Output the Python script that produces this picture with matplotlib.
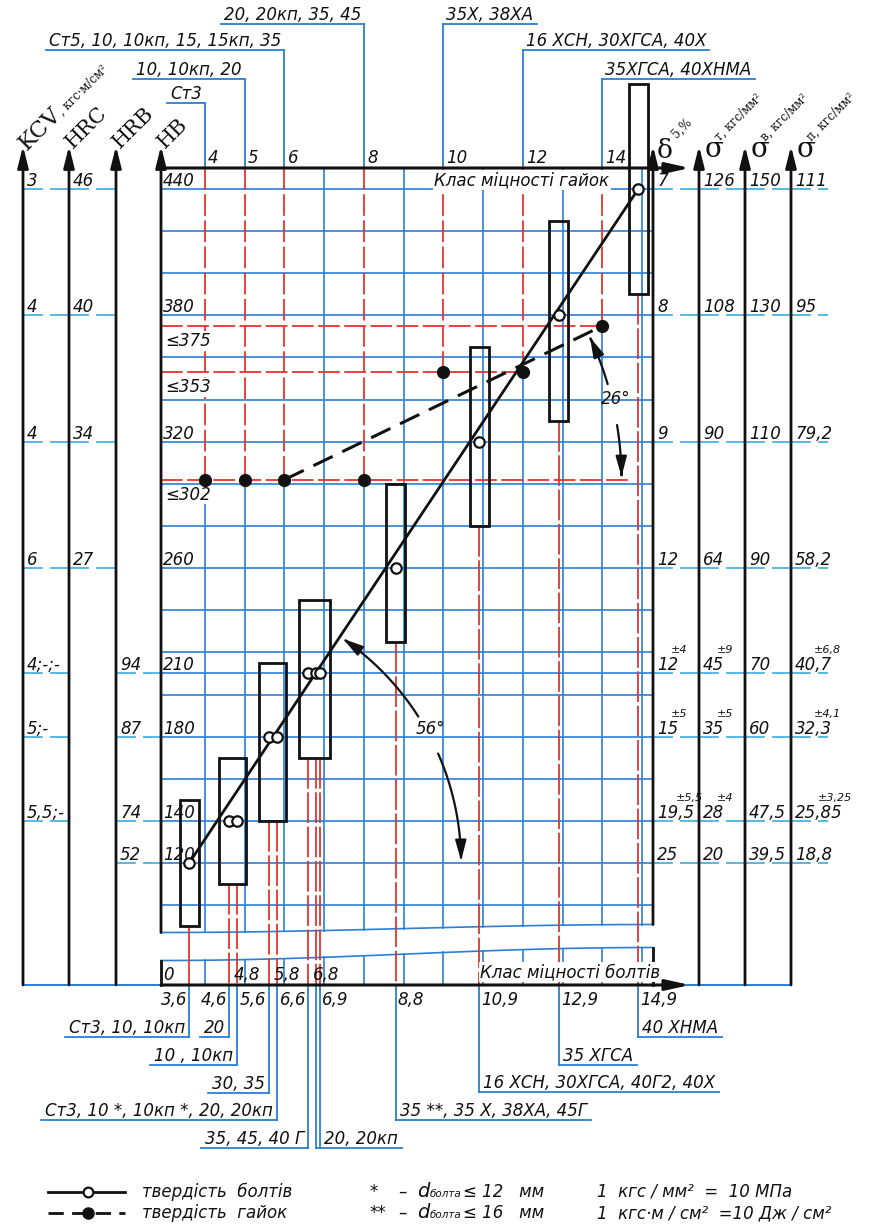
import numpy as np
import matplotlib.pyplot as plt
from matplotlib.patches import Rectangle, FancyArrowPatch
from matplotlib.path import Path

# ---- values ----
hb_rows = [440, 380, 320, 260, 210, 180, 140, 120]
kcv_vals = ['3', '4', '4', '6', '4;-;-', '5;-', '5,5;-', '']
hrc_vals = ['46', '40', '34', '27', '', '', '', '']
hrb_vals = ['', '', '', '', '94', '87', '74', '52']
delta5_vals = ['7', '8', '9', '12', '12', '15', '19,5', '25']
delta5_tol = ['', '', '', '', '±4', '±5', '±5,5', '']
sigma_t_vals = ['126', '108', '90', '64', '45', '35', '28', '20']
sigma_t_tol = ['', '', '', '', '±9', '±5', '±4', '']
sigma_b_vals = ['150', '130', '110', '90', '70', '60', '47,5', '39,5']
sigma_b_tol = ['', '', '', '', '', '', '', '']
sigma_p_vals = ['111', '95', '79,2', '58,2', '40,7', '32,3', '25,85', '18,8']
sigma_p_tol = ['', '', '', '', '±6,8', '±4,1', '±3,25', '']

hb_grid = list(range(100, 441, 20)) + [210]
hb_marks = [440, 380, 375, 353, 320, 302, 260, 210, 180, 140, 120]
hb_mark_labels = ['440', '380', '≤375', '≤353', '320', '≤302', '260', '210', '180', '140', '120']

nut_classes = [4, 5, 6, 8, 10, 12, 14]
nut_hb = [302, 302, 302, 302, 353, 353, 375]
nut_steels = ['Ст3', '10, 10кп, 20', 'Ст5, 10, 10кп, 15, 15кп, 35', '20, 20кп, 35, 45',
              '35Х, 38ХА', '16 ХСН, 30ХГСА, 40Х', '35ХГСА, 40ХНМА']

bolt_classes = [3.6, 4.6, 4.8, 5.6, 5.8, 6.6, 6.8, 6.9, 8.8, 10.9, 12.9, 14.9]
bolt_labels = ['3,6', '4,6', '4,8', '5,6', '5,8', '6,6', '6,8', '6,9', '8,8', '10,9', '12,9', '14,9']
bolt_hb = [120, 140, 140, 180, 180, 210, 210, 210, 260, 320, 380, 440]
bolt_steels = ['Ст3, 10, 10кп', '20', '10 , 10кп', '30, 35', 'Ст3, 10 *, 10кп *, 20, 20кп',
               '35, 45, 40 Г', '', '20, 20кп', '35 **, 35 Х, 38ХА, 45Г',
               '16 ХСН, 30ХГСА, 40Г2, 40Х', '35 ХГСА', '40 ХНМА']

box_groups = [[3.6], [4.6, 4.8], [5.6, 5.8], [6.6, 6.8, 6.9], [8.8], [10.9], [12.9], [14.9]]
box_hb_lo = [90, 110, 140, 170, 225, 280, 330, 390]
box_hb_hi = [150, 170, 215, 245, 300, 365, 425, 490]

# ---- layout (pixels of the 883 x 1224 sheet) ----
W, H = 883, 1224
X0, KX = 46, 39.75       # pixel x = X0 + KX * class
Y0, KY = 189, 2.10625    # pixel y = Y0 + KY * (440 - HB)


def X(px):
    return (np.asarray(px, float) - X0) / KX


def Y(py):
    return 440 - (np.asarray(py, float) - Y0) / KY


def XP(c):
    return X0 + KX * c


L_EDGE, R_EDGE = 161, 653
TOP_AX, BOT_AX, ARROW_TOP, AX_END = 168, 985, 146, 690
left_axes = [23, 69, 116, L_EDGE]
right_axes = [R_EDGE, 699, 745, 791, 828]
nut_lead_top = [103, 79, 50, 24, 24, 50, 79]
nut_lead_side = [-1, -1, -1, -1, 1, 1, 1]
bolt_lead_bot = [1037, 1037, 1065, 1093, 1120, 1148, 1148, 1148, 1120, 1092, 1065, 1037]
bolt_lead_side = [-1, -1, -1, -1, -1, -1, 1, 1, 1, 1, 1, 1]
bolt_lab_pos = ['bl', 'bl', 'a', 'bl', 'a', 'bl', 'a', 'br', 'br', 'br', 'br', 'br']

BLUE = '#2a7fd6'
RED = '#e3342e'
CYAN = '#4ab2e0'
INK = '#111111'
FS = 12
TXT = dict(style='italic', color=INK, fontsize=FS)
SERIF = 'DejaVu Serif'
RED_DASH = (0, (12, 2.5))
BOLT_DASH = (0, (17, 2))

plt.rcParams['font.family'] = ['DejaVu Sans']
fig = plt.figure(figsize=(W / 100, H / 100), dpi=100)
ax = fig.add_axes([0, 0, 1, 1])
ax.set_xlim(X(0), X(W))
ax.set_ylim(Y(H), Y(0))
ax.axis('off')
renderer = fig.canvas.get_renderer()
inv = ax.transData.inverted()


def upper_break(px):
    t = (np.asarray(px, float) - L_EDGE) / (R_EDGE - L_EDGE)
    return 928.5 + 4 * np.cos(np.pi * t)


def lower_break(px):
    t = (np.asarray(px, float) - L_EDGE) / (R_EDGE - L_EDGE)
    return 954 + 6.5 * np.cos(np.pi * t)


def seg(x0, y0, x1, y1, **kw):
    ax.plot(X([x0, x1]), Y([y0, y1]), **kw)


def arrow_up(px, y_from, y_to):
    ax.annotate('', xy=(X(px), Y(y_to)), xytext=(X(px), Y(y_from)),
                arrowprops=dict(arrowstyle='-|>,head_length=0.8,head_width=0.2', color=INK,
                                lw=2, shrinkA=0, shrinkB=0, mutation_scale=16), zorder=6)


def arrow_right(py):
    ax.annotate('', xy=(X(AX_END), Y(py)), xytext=(X(L_EDGE), Y(py)),
                arrowprops=dict(arrowstyle='-|>,head_length=0.9,head_width=0.2', color=INK,
                                lw=2.2, shrinkA=0, shrinkB=0, mutation_scale=16), zorder=6)


def put(x, y, s, dx=0, dy=0, **kw):
    opts = dict(TXT)
    opts.update(kw)
    return ax.annotate(s, (x, y), xytext=(dx, dy), textcoords='offset pixels', **opts)


def chain(px, py, parts):
    # text pieces laid one after another along their own (rotated) baselines
    for s, size, rot in parts:
        t = ax.text(X(px), Y(py), s, ha='left', va='baseline', rotation_mode='anchor',
                    family=SERIF, fontsize=size, color=INK)
        w = t.get_window_extent(renderer).width
        t.set_rotation(rot)
        px += w * np.cos(np.radians(rot))
        py -= w * np.sin(np.radians(rot))


# ---- grid ----
for hb in hb_grid:
    ax.plot(X([L_EDGE, R_EDGE]), [hb, hb], color=BLUE, lw=1.2, zorder=1)
for c in range(4, 16):
    top = nut_hb[nut_classes.index(c)] if c in nut_classes else Y(TOP_AX)
    ax.plot([c, c], [top, Y(upper_break(XP(c)))], color=BLUE, lw=1.2, zorder=1)
    ax.plot([c, c], [Y(lower_break(XP(c))), Y(BOT_AX)], color=BLUE, lw=1.2, zorder=1)
xs = np.linspace(L_EDGE, R_EDGE, 80)
ax.plot(X(xs), Y(upper_break(xs)), color=BLUE, lw=1.2, zorder=1)
ax.plot(X(xs), Y(lower_break(xs)), color=BLUE, lw=1.2, zorder=1)


# ---- angle arcs ----
def angle_arc(center, target, radius, label, gap_px=21):
    c = ax.transData.transform(center)
    t = ax.transData.transform(target)
    ang = np.degrees(np.arctan2(t[1] - c[1], t[0] - c[0]))
    mid = ang / 2
    gap = np.degrees(gap_px / radius)
    for a0, a1 in [(mid + gap, ang - 0.8), (mid - gap, 0.5)]:
        th = np.radians(np.linspace(a0, a1, 40))
        pts = inv.transform(np.column_stack([c[0] + radius * np.cos(th),
                                             c[1] + radius * np.sin(th)]))
        ax.add_patch(FancyArrowPatch(path=Path(pts), arrowstyle='-|>,head_length=0.55,head_width=0.15',
                                     mutation_scale=22, color=INK, lw=1.6, zorder=6))
    tm = np.radians(mid + 0.8)
    tx, ty = inv.transform((c[0] + (radius + 4) * np.cos(tm), c[1] + (radius + 4) * np.sin(tm)))
    ax.text(tx, ty, label, ha='center', va='center', zorder=7, **TXT)
    return c[0] + radius


# ---- nut hardness ----
for c, hb in zip(nut_classes, nut_hb):
    ax.plot([c, c], [Y(TOP_AX), hb], color=RED, lw=1.3, ls=RED_DASH, zorder=2)
arc_end = angle_arc((nut_classes[2], nut_hb[2]), (nut_classes[-1], nut_hb[-1]), 337, '26°')
for level in sorted(set(nut_hb)):
    last = max(c for c, h in zip(nut_classes, nut_hb) if h == level)
    end = X(arc_end + 9) if level == min(nut_hb) else last
    ax.plot([X(L_EDGE), end], [level, level], color=RED, lw=1.3, ls=RED_DASH, zorder=2)
ax.plot([nut_classes[2], nut_classes[-1]], [nut_hb[2], nut_hb[-1]], color=INK, lw=2.2,
        ls=(0, (7, 3.5)), zorder=5)
ax.plot(nut_classes, nut_hb, 'o', ms=8.5, color=INK, zorder=8)

# ---- bolt hardness ----
for grp, lo, hi in zip(box_groups, box_hb_lo, box_hb_hi):
    left, right = min(grp) - 0.24, max(grp) + 0.24
    ax.add_patch(Rectangle((left, lo), right - left, hi - lo, fill=False, ec=INK, lw=2, zorder=4))
    for c in grp:
        ax.plot([c, c], [lo, Y(BOT_AX)], color=RED, lw=1.3,
                ls='-' if c == bolt_classes[0] else BOLT_DASH, zorder=2)
ax.plot([bolt_classes[0], bolt_classes[-1]], [bolt_hb[0], bolt_hb[-1]], color=INK, lw=2, zorder=5)
ax.plot(bolt_classes, bolt_hb, 'o', ms=7.5, mfc='white', mec=INK, mew=1.6, zorder=8)
angle_arc((bolt_classes[0], bolt_hb[0]), (bolt_classes[-1], bolt_hb[-1]), 272, '56°')

# ---- frame and axes ----
for px in left_axes[:3] + right_axes[1:4]:
    arrow_up(px, BOT_AX, ARROW_TOP)
arrow_up(L_EDGE, upper_break(L_EDGE), ARROW_TOP)
arrow_up(R_EDGE, upper_break(R_EDGE), ARROW_TOP)
seg(L_EDGE, lower_break(L_EDGE), L_EDGE, BOT_AX, color=INK, lw=2, zorder=6)
seg(R_EDGE, lower_break(R_EDGE), R_EDGE, BOT_AX, color=INK, lw=2, zorder=6)
arrow_right(TOP_AX)
arrow_right(BOT_AX)
seg(left_axes[0], BOT_AX, L_EDGE, BOT_AX, color=BLUE, lw=1.4, zorder=1)
seg(R_EDGE, BOT_AX, right_axes[3], BOT_AX, color=BLUE, lw=1.4, zorder=1)

# ---- side scales ----
side_dash = (0, (11, 4))
for i, hb in enumerate(hb_rows):
    for j, col in enumerate([kcv_vals, hrc_vals, hrb_vals]):
        if col[i]:
            ax.plot(X([left_axes[j], left_axes[j + 1]]), [hb, hb], color=CYAN, lw=1.3,
                    ls=side_dash, zorder=1)
            put(X(left_axes[j]), hb, col[i], dx=4, dy=3, ha='left', va='baseline')
    for j, (col, tol) in enumerate([(delta5_vals, delta5_tol), (sigma_t_vals, sigma_t_tol),
                                    (sigma_b_vals, sigma_b_tol), (sigma_p_vals, sigma_p_tol)]):
        ax.plot(X([right_axes[j], right_axes[j + 1]]), [hb, hb], color=CYAN, lw=1.3,
                ls=side_dash, zorder=1)
        t = put(X(right_axes[j]), hb, col[i], dx=4, dy=3, ha='left', va='baseline')
        if tol[i]:
            ax.annotate(tol[i], xy=(1, 1), xycoords=t, xytext=(9, 1), textcoords='offset pixels',
                        ha='right', va='bottom', style='italic', fontsize=8, color=INK)

# HB marks inside the frame
for lab, hb in zip(hb_mark_labels, hb_marks):
    if lab.startswith('≤'):
        put(X(L_EDGE), hb, lab, dx=4, dy=-6, ha='left', va='top', zorder=7,
            bbox=dict(fc='white', ec='none', pad=0.5))
    else:
        put(X(L_EDGE), hb, lab, dx=2, dy=3, ha='left', va='baseline', zorder=7)

# axis names
chain(27, 151, [('KCV', 16.5, 45), (', кгс·м/см²', 8.5, 45)])
for px, name in [(73, 'HRC'), (120, 'HRB'), (165, 'HB')]:
    chain(px, 149, [(name, 15, 45)])
ax.text(X(657), Y(158), 'δ', ha='left', va='baseline', family=SERIF, fontsize=19, color=INK)
chain(676, 138, [('5,%', 8.5, 45)])
for px, sub in [(705, 'т'), (751, 'в'), (797, 'п')]:
    ax.text(X(px), Y(157), 'σ', ha='left', va='baseline', family=SERIF, fontsize=20, color=INK)
    chain(px + 14, 141, [(sub + ', кгс/мм²', 8.5, 45)])

# class axes titles
ax.text(X(522), Y(180), 'Клас міцності гайок', ha='center', va='center', zorder=7,
        bbox=dict(fc='white', ec='none', pad=1), **TXT)
ax.text(X(570), Y(972), 'Клас міцності болтів', ha='center', va='center', zorder=7,
        bbox=dict(fc='white', ec='none', pad=1), **TXT)

# ---- nut class ticks and steel leaders ----
for c, steel, top, side in zip(nut_classes, nut_steels, nut_lead_top, nut_lead_side):
    put(c, Y(TOP_AX), str(c), dx=3, dy=5, ha='left', va='baseline')
    ax.plot([c, c], [Y(TOP_AX), Y(top)], color=BLUE, lw=1.3, zorder=1)
    t = put(c, Y(top), steel, dx=3 * side, dy=4, ha='left' if side > 0 else 'right', va='baseline')
    bb = t.get_window_extent(renderer)
    far = bb.x1 + 3 if side > 0 else bb.x0 - 3
    ax.plot([c, X(far)], [Y(top), Y(top)], color=BLUE, lw=1.3, zorder=1)

# ---- bolt class ticks and steel leaders ----
put(X(L_EDGE), Y(BOT_AX), '0', dx=2, dy=5, ha='left', va='baseline')
for k, (c, lab, steel, bot, side, pos) in enumerate(zip(bolt_classes, bolt_labels, bolt_steels,
                                                         bolt_lead_bot, bolt_lead_side, bolt_lab_pos)):
    if pos == 'a':
        put(c, Y(BOT_AX), lab, dx=-3, dy=5, ha='left', va='baseline', zorder=7)
    elif pos == 'bl':
        put(c, Y(BOT_AX), lab, dx=-2, dy=-20, ha='right', va='baseline')
    else:
        put(c, Y(BOT_AX), lab, dx=2, dy=-20, ha='left', va='baseline')
    ax.plot([c, c], [Y(BOT_AX), Y(bot)], color=BLUE, lw=1.3, zorder=1)
    if not steel:
        ax.plot([c, bolt_classes[k + 1]], [Y(bot), Y(bot)], color=BLUE, lw=1.3, zorder=1)
        continue
    t = put(c, Y(bot), steel, dx=4 * side, dy=4, ha='left' if side > 0 else 'right', va='baseline')
    bb = t.get_window_extent(renderer)
    far = bb.x1 + 4 if side > 0 else bb.x0 - 4
    ax.plot([c, X(far)], [Y(bot), Y(bot)], color=BLUE, lw=1.3, zorder=1)

# ---- legend and notes ----
ax.plot(X([48, 125]), Y([1192, 1192]), color=INK, lw=2)
ax.plot(X(88), Y(1192), 'o', ms=7, mfc='white', mec=INK, mew=1.6)
ax.plot(X([48, 125]), Y([1213, 1213]), color=INK, lw=2, ls=(0, (5.5, 3)))
ax.plot(X(88), Y(1213), 'o', ms=8, color=INK)
put(X(142), Y(1197), 'твердість  болтів', ha='left', va='baseline')
put(X(142), Y(1218), 'твердість  гайок', ha='left', va='baseline')
for py, stars, dval in [(1197, '*', '12'), (1218, '**', '16')]:
    put(X(370), Y(py), stars, ha='left', va='baseline')
    put(X(398), Y(py), '–', ha='left', va='baseline')
    put(X(417), Y(py), 'd', ha='left', va='baseline', fontsize=14)
    put(X(430), Y(py), 'болта', ha='left', va='baseline', fontsize=7.5)
    put(X(463), Y(py), '≤ ' + dval + '   мм', ha='left', va='baseline')
put(X(597), Y(1197), '1  кгс / мм²  =  10 МПа', ha='left', va='baseline')
put(X(597), Y(1218), '1  кгс·м / см²  =10 Дж / см²', ha='left', va='baseline')

fig.savefig('out.png', dpi=100)
